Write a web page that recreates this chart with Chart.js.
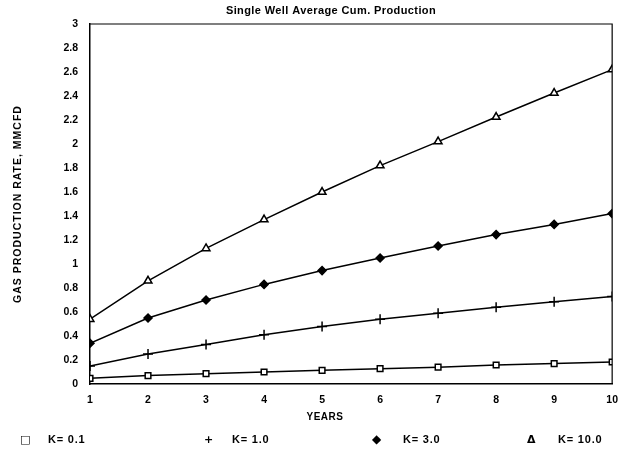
<!DOCTYPE html>
<html>
<head>
<meta charset="utf-8">
<script src="https://cdn.jsdelivr.net/npm/chart.js@4.4.1/dist/chart.umd.min.js"></script>
<style>
  html, body { margin:0; padding:0; background:#fff; }
  #wrap { position:relative; width:623px; height:449px; }
  #legend { position:absolute; left:0; top:433px; width:623px; height:18px;
            font: bold 11px "Liberation Sans", Arial, sans-serif; letter-spacing:0.8px; color:#000; }
  #legend span { position:absolute; top:0; white-space:pre; }
</style>
</head>
<body>
<div id="wrap">
  <canvas id="chart" width="623" height="449"></canvas>
  <div id="legend"></div>
</div>
<script>
// Datos
const years = [1, 2, 3, 4, 5, 6, 7, 8, 9, 10];
const k01  = [0.047, 0.07, 0.086, 0.10, 0.114, 0.128, 0.14, 0.158, 0.17, 0.183];
const k1   = [0.15, 0.25, 0.33, 0.41, 0.48, 0.54, 0.59, 0.64, 0.685, 0.73];
const k3   = [0.34, 0.55, 0.70, 0.83, 0.945, 1.05, 1.15, 1.245, 1.33, 1.42];
const k10  = [0.54, 0.86, 1.13, 1.37, 1.60, 1.82, 2.02, 2.225, 2.425, 2.62];
const seriesLabels = ['K= 0.1', 'K= 1.0', 'K= 3.0', 'K= 10.0'];
const legendSymbols = ['\u25A1', '+', '\u25C6', '\u0394'];

const FONT = '"Liberation Sans", Arial, sans-serif';

function toPoints(vals){
    return years.map((x,i)=>({x:x, y:vals[i]}));
}

function makeSet(label, vals, style, filled){
    return {
        label,
        data: toPoints(vals),
        borderColor:'#000',
        backgroundColor: filled ? '#000' : '#fff',
        borderWidth:1.5,
        pointStyle:style,
        pointRadius: style==='cross' ? 5 : (style==='triangle' ? 4.5 : 4),
        pointBorderWidth:1.5,
        pointBorderColor:'#000',
        pointBackgroundColor: filled ? '#000' : '#fff',
        tension:0,
        fill:false
    };
}

// Marco, titulo, rotulo del eje y "YEARS"
const extras = {
    id:'extras',
    afterDraw(chart){
        const {ctx, chartArea:a} = chart;
        ctx.save();
        ctx.strokeStyle = '#000';
        ctx.lineWidth = 1.2;
        ctx.beginPath();
        ctx.moveTo(a.left, a.top);
        ctx.lineTo(a.right, a.top);
        ctx.lineTo(a.right, a.bottom);
        ctx.stroke();
        ctx.fillStyle = '#000';
        ctx.textAlign = 'center';
        ctx.textBaseline = 'middle';
        ctx.font = 'bold 11px ' + FONT;
        ctx.letterSpacing = '0.4px';
        ctx.fillText('Single Well Average Cum. Production', 331, 11);
        ctx.letterSpacing = '0.5px';
        ctx.font = 'bold 10px ' + FONT;
        ctx.fillText('YEARS', 325, 417);
        ctx.translate(18, (a.top + a.bottom)/2);
        ctx.rotate(-Math.PI/2);
        ctx.font = 'bold 10.5px ' + FONT;
        ctx.letterSpacing = '1px';
        ctx.fillText('GAS PRODUCTION RATE, MMCFD', 0, 0);
        ctx.restore();
    }
};

const ctx = document.getElementById('chart').getContext('2d');
const chart = new Chart(ctx, {
    type:'line',
    data:{
        datasets:[
            makeSet(seriesLabels[0], k01, 'rect', false),
            makeSet(seriesLabels[1], k1, 'cross', false),
            makeSet(seriesLabels[2], k3, 'rectRot', true),
            makeSet(seriesLabels[3], k10, 'triangle', false)
        ]
    },
    options:{
        responsive:false,
        animation:false,
        layout:{ padding:{ left:8, right:0, top:24, bottom:0 } },
        plugins:{ legend:{ display:false }, title:{ display:false }, tooltip:{ enabled:false } },
        scales:{
            x:{
                type:'linear', min:1, max:10,
                grid:{ display:false, drawTicks:true, tickLength:5, tickColor:'#000', tickWidth:1.2 },
                border:{ display:true, color:'#000', width:1.5 },
                ticks:{ stepSize:1, padding:5, color:'#000', font:{ family:FONT, size:10.5, weight:'bold' } },
                afterFit(s){ s.height = 65; }
            },
            y:{
                min:0, max:3,
                grid:{ display:false, drawTicks:true, tickLength:8, tickColor:'#000', tickWidth:1.2 },
                border:{ display:true, color:'#000', width:1.5 },
                ticks:{ stepSize:0.2, padding:4, color:'#000', font:{ family:FONT, size:10.5, weight:'bold' },
                        callback:v=>String(Number(v.toFixed(1))) },
                afterFit(s){ s.width = 82; }
            }
        }
    },
    plugins:[extras]
});

// Leyenda abajo
const legendPos = [[20, 48], [204, 232], [372, 403], [527, 558]];
const legend = document.getElementById('legend');
seriesLabels.forEach((lab,i)=>{
    const m = document.createElement('span');
    m.textContent = legendSymbols[i];
    m.style.left = legendPos[i][0] + 'px';
    m.style.fontFamily = '"DejaVu Sans", sans-serif';
    m.style.fontSize = i===2 ? '12px' : '11px';
    if(i===2) m.style.top = '-1px';
    legend.appendChild(m);
    const t = document.createElement('span');
    t.textContent = lab;
    t.style.left = legendPos[i][1] + 'px';
    legend.appendChild(t);
});
</script>
</body>
</html>
